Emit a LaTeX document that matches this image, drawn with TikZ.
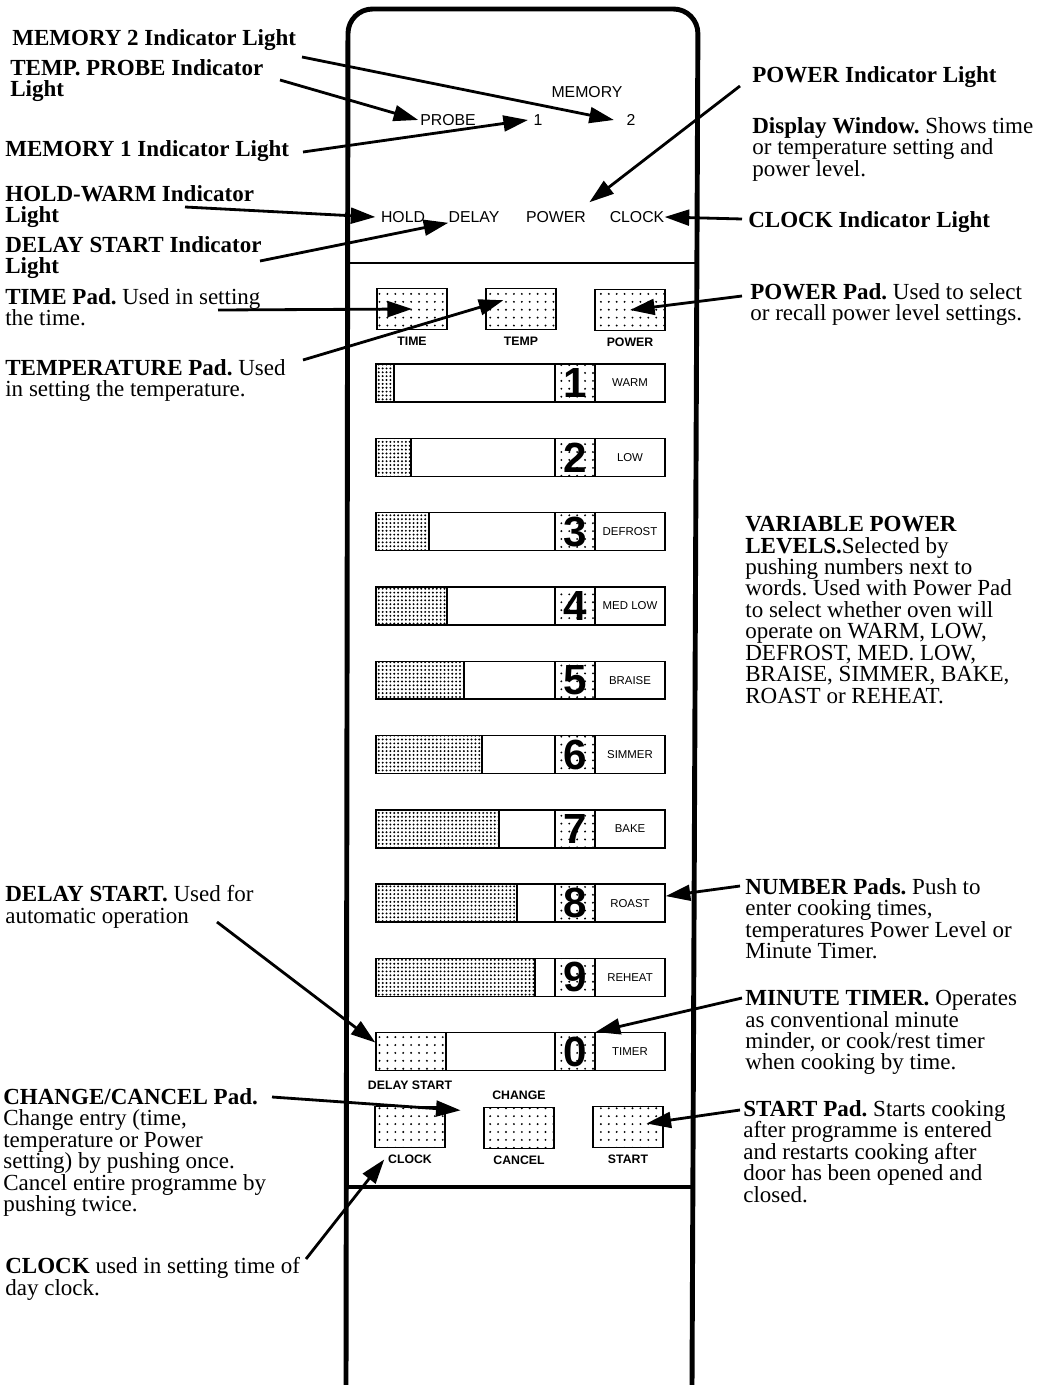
\documentclass[tikz,border=0pt]{standalone}
\usepackage{fontspec}
\setmainfont{Liberation Serif}
\setsansfont{Liberation Sans}
\usetikzlibrary{arrows.meta,patterns.meta,positioning}

\newcommand{\hd}[1]{\textbf{#1}}
\frenchspacing

\begin{document}
\begin{tikzpicture}[x=0.02cm,y=-0.02cm,
  lbl/.style={anchor=north west,align=left,inner sep=0pt,font=\fontsize{13.1}{12.2}\selectfont},
  ptr/.style={line width=1.6pt,-{Triangle[length=14pt,width=9pt]}},
  lamp/.style={inner sep=0pt,font=\sffamily\fontsize{9}{9}\selectfont},
  pad/.style={draw,line width=0.8pt,minimum width=1.4cm,minimum height=0.82cm,inner sep=0pt,pattern={Dots[distance=4.5pt,radius=0.6pt]}},
  padname/.style={inner sep=0pt,font=\sffamily\bfseries\fontsize{7}{7}\selectfont},
  bar/.style={draw,line width=0.8pt,minimum width=5.78cm,minimum height=0.76cm,inner sep=0pt},
  numbox/.style={draw,line width=0.8pt,minimum width=0.8cm,minimum height=0.76cm,inner sep=0pt,pattern={Dots[distance=4.5pt,radius=0.6pt]},font=\sffamily\bfseries\fontsize{24}{24}\selectfont},
  wordbox/.style={draw,line width=0.8pt,minimum width=1.4cm,minimum height=0.76cm,inner sep=0pt,font=\sffamily\fontsize{6.5}{6.5}\selectfont}]
\useasboundingbox (0,0) rectangle (1048,1385);

% control panel
\draw[line width=2.8pt,rounded corners=14pt] (346,1385) -- (348,9) -- (698,9) -- (692,1385);
\draw[line width=0.7pt] (348,263) -- (696,263);
\draw[line width=2.6pt] (347,1187) -- (693,1187);

% indicator lights
\node[lamp] (memory) at (587,92) {MEMORY};
\node[lamp] (probe) at (448,120) {PROBE};
\node[lamp] (one) at (538,120) {1};
\node[lamp] (two) at (631,120) {2};
\node[lamp] (hold) at (403,217) {HOLD};
\node[lamp] (delay) at (474,217) {DELAY};
\node[lamp] (power) at (556,217) {POWER};
\node[lamp] (clock) at (637,217) {CLOCK};

% top pads
\node[pad] (timepad) at (412,309) {};
\node[pad] (temppad) at (521,309) {};
\node[pad] (powerpad) at (630,310) {};
\node[padname,below=0.13cm of timepad] (timename) {TIME};
\node[padname,below=0.13cm of temppad] (tempname) {TEMP};
\node[padname,below=0.13cm of powerpad] (powername) {POWER};

% number pads
\foreach \n/\lvl/\s/\dd [count=\i from 0] in {1/WARM/18/2.2,2/LOW/35/2.2,3/DEFROST/53/2.2,4/MED LOW/71/2.2,5/BRAISE/88/2.2,6/SIMMER/106/2.2,7/BAKE/123/2.2,8/ROAST/141/2.2,9/REHEAT/159/2.2,0/TIMER/70/4.5} {
  \pgfmathsetmacro\y{383+74.3*\i}
  \fill[pattern={Dots[distance=\dd pt,radius=0.62pt]}] (376,\y-19) rectangle (376+\s,\y+19);
  \draw[line width=0.6pt] (376+\s,\y-19) -- (376+\s,\y+19);
  \node[bar] (bar\n) at (520.5,\y) {};
  \node[numbox] (num\n) at (575,\y) {\n};
  \node[wordbox] (word\n) at (630,\y) {\lvl};
}
\node[padname] (dstartname) at (410,1085) {DELAY START};

% bottom pads
\node[pad] (clockpad) at (410,1127) {};
\node[pad] (cancelpad) at (519,1128) {};
\node[pad] (startpad) at (628,1127) {};
\node[padname,below=0.13cm of clockpad] (clockname) {CLOCK};
\node[padname,above=0.13cm of cancelpad] (changename) {CHANGE};
\node[padname,below=0.13cm of cancelpad] (cancelname) {CANCEL};
\node[padname,below=0.13cm of startpad] (startname) {START};

% labels, left
\node[lbl] (memtwolbl) at (12,29) {\hd{MEMORY 2 Indicator Light}};
\node[lbl] (probelbl) at (10,59) {\hd{TEMP. PROBE Indicator}\\\hd{Light}};
\node[lbl] (memonelbl) at (5,140) {\hd{MEMORY 1 Indicator Light}};
\node[lbl] (holdlbl) at (5,185) {\hd{HOLD-WARM Indicator}\\\hd{Light}};
\node[lbl] (delaylbl) at (5,236) {\hd{DELAY START Indicator}\\\hd{Light}};
\node[lbl] (timelbl) at (5,288) {\hd{TIME Pad.} Used in setting\\the time.};
\node[lbl] (templbl) at (5,359) {\hd{TEMPERATURE Pad.} Used\\in setting the temperature.};
\node[lbl] (dstartlbl) at (5,885) {\hd{DELAY START.} Used for\\automatic operation};
\node[lbl] (changelbl) at (3,1088) {\hd{CHANGE/CANCEL Pad.}\\Change entry (time,\\temperature or Power\\setting) by pushing once.\\Cancel entire programme by\\pushing twice.};
\node[lbl] (clocklbl) at (5,1257) {\hd{CLOCK} used in setting time of\\day clock.};

% labels, right
\node[lbl] (powerindlbl) at (752,66) {\hd{POWER Indicator Light}};
\node[lbl] (displaylbl) at (752,117) {\hd{Display Window.} Shows time\\or temperature setting and\\power level.};
\node[lbl] (clockindlbl) at (748,211) {\hd{CLOCK Indicator Light}};
\node[lbl] (powerpadlbl) at (750,283) {\hd{POWER Pad.} Used to select\\or recall power level settings.};
\node[lbl] (varlbl) at (745,516) {\hd{VARIABLE POWER}\\\hd{LEVELS.}Selected by\\pushing numbers next to\\words. Used with Power Pad\\to select whether oven will\\operate on WARM, LOW,\\DEFROST, MED. LOW,\\BRAISE, SIMMER, BAKE,\\ROAST or REHEAT.};
\node[lbl] (numberlbl) at (745,878) {\hd{NUMBER Pads.} Push to\\enter cooking times,\\temperatures Power Level or\\Minute Timer.};
\node[lbl] (minutelbl) at (745,990) {\hd{MINUTE TIMER.} Operates\\as conventional minute\\minder, or cook/rest timer\\when cooking by time.};
\node[lbl] (startlbl) at (743,1100) {\hd{START Pad.} Starts cooking\\after programme is entered\\and restarts cooking after\\door has been opened and\\closed.};

% arrow tails
\coordinate (memtwoend) at (302,57);
\coordinate (probeend) at (280,80);
\coordinate (memoneend) at (303,152);
\coordinate (holdend) at (185,207);
\coordinate (delayend) at (260,261);
\coordinate (powerindend) at (740,86);
\coordinate (clockindend) at (742,219);
\coordinate (timeend) at (218,310);
\coordinate (tempend) at (303,360);
\coordinate (powerpadend) at (742,296);
\coordinate (dstartend) at (217,922);
\coordinate (changeend) at (272,1097);
\coordinate (clockend) at (306,1259);
\coordinate (numberend) at (740,886);
\coordinate (minuteend) at (742,998);
\coordinate (startend) at (740,1110);

% arrows
\draw[ptr] (memtwoend) -- ([xshift=-7pt]two.west);
\draw[ptr] (probeend) -- ([xshift=-1pt]probe.west);
\draw[ptr] (memoneend) -- ([xshift=-3pt]one.west);
\draw[ptr] (holdend) -- ([xshift=-3pt]hold.west);
\draw[ptr] (delayend) -- (delay.south west);
\draw[ptr] (powerindend) -- ([shift={(19pt,5pt)}]power.north);
\draw[ptr] (clockindend) -- (clock.east);
\draw[ptr] (timeend) -- (timepad.center);
\draw[ptr] (tempend) -- ([shift={(-10pt,5pt)}]temppad.center);
\draw[ptr] (powerpadend) -- (powerpad.center);
\draw[ptr] (dstartend) -- ([yshift=-6pt]bar0.north west);
\draw[ptr] (changeend) -- ([shift={(8.5pt,9.5pt)}]clockpad.east);
\draw[ptr] (clockend) -- ([xshift=-2pt]clockname.west);
\draw[ptr] (numberend) -- ([yshift=4pt]bar8.east);
\draw[ptr] (minuteend) -- (num0.north east);
\draw[ptr] (startend) -- ([shift={(10.5pt,2pt)}]startpad.center);
\end{tikzpicture}
\end{document}
